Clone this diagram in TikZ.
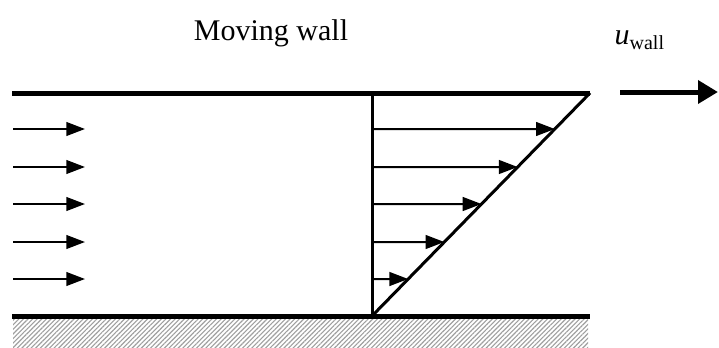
\documentclass[tikz,border=0pt]{standalone}
\usepackage{fontspec}
\setmainfont{Liberation Serif}
\usetikzlibrary{calc,arrows.meta,patterns.meta}

\begin{document}
\begin{tikzpicture}[x=0.4pt, y=-0.4pt,
    wall/.style={line width=2pt},
    flow/.style={-{Triangle[length=7.5pt,width=5.5pt]}, line width=0.8pt},
    profile/.style={line width=1.2pt},
    txt/.style={font=\fontsize{12}{14}\selectfont, inner sep=0pt}
]
\useasboundingbox (0,0) rectangle (719,347);
\coordinate (tl) at (12,93);
\coordinate (tr) at (590,93);
\coordinate (bl) at (12,316);
\coordinate (br) at (590,316);
\coordinate (o) at (372,316);
\coordinate (ot) at (372,93);
% fixed wall below
\fill[pattern={Lines[angle=45,distance=1.3pt,line width=0.45pt]}, pattern color=gray!75] (13,319) rectangle (588,347);
\draw[wall] (tl) -- (tr);
\draw[wall] (bl) -- (br);
\draw[profile] (o) -- (ot);
\draw[profile] (o) -- (tr);
\foreach \y [count=\i] in {129,167,204,242,279} {
    \coordinate (a\i) at (13,\y);
    \coordinate (b\i) at (85,\y);
    \coordinate (p\i) at (372,\y);
    \coordinate (q\i) at ($(o)!{(316-\y)/223}!(tr)$);
    \draw[flow] (a\i) -- (b\i);
    \draw[flow] (p\i) -- (q\i);
}
% wall velocity
\coordinate (us) at (620,92);
\coordinate (ue) at (718,92);
\draw[-{Triangle[length=8pt,width=9pt]}, line width=2pt] (us) -- (ue);
\node[txt] (title) at (271,33) {Moving wall};
\node[txt] (uw) at (640,40) {\textit{u}\textsubscript{wall}};
\end{tikzpicture}
\end{document}
